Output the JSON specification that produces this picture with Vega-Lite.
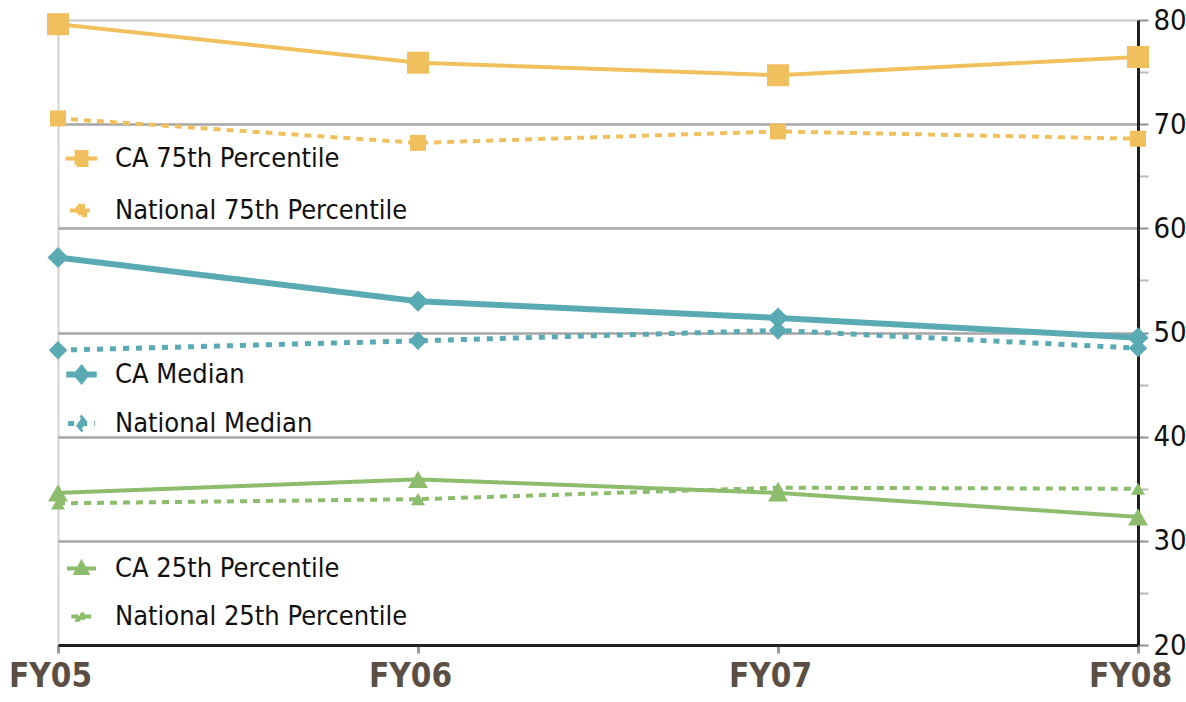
{
  "$schema": "https://vega.github.io/schema/vega-lite/v6.json",
  "width": 1080,
  "height": 625,
  "autosize": {"type": "none"},
  "padding": {"left": 58, "top": 20, "right": 48, "bottom": 57},
  "background": "white",
  "config": {
    "view": {"stroke": null},
    "font": "DejaVu Sans Condensed, Roboto, sans-serif",
    "legend": {
      "title": null,
      "orient": "none",
      "padding": 0,
      "labelFont": "DejaVu Sans Condensed, Roboto, sans-serif",
      "labelFontSize": 27,
      "labelColor": "#111111",
      "labelOffset": 20,
      "labelLimit": 500,
      "symbolSize": 1024,
      "symbolOffset": 0
    }
  },
  "datasets": {
    "main": [
      {"year": 0, "group": "p75", "series": "CA 75th Percentile", "value": 79.6},
      {"year": 1, "group": "p75", "series": "CA 75th Percentile", "value": 75.9},
      {"year": 2, "group": "p75", "series": "CA 75th Percentile", "value": 74.7},
      {"year": 3, "group": "p75", "series": "CA 75th Percentile", "value": 76.45},
      {"year": 0, "group": "p75", "series": "National 75th Percentile", "value": 70.55},
      {"year": 1, "group": "p75", "series": "National 75th Percentile", "value": 68.2},
      {"year": 2, "group": "p75", "series": "National 75th Percentile", "value": 69.3},
      {"year": 3, "group": "p75", "series": "National 75th Percentile", "value": 68.6},
      {"year": 0, "group": "med", "series": "CA Median", "value": 57.2},
      {"year": 1, "group": "med", "series": "CA Median", "value": 53.0},
      {"year": 2, "group": "med", "series": "CA Median", "value": 51.4},
      {"year": 3, "group": "med", "series": "CA Median", "value": 49.5},
      {"year": 0, "group": "med", "series": "National Median", "value": 48.3},
      {"year": 1, "group": "med", "series": "National Median", "value": 49.2},
      {"year": 2, "group": "med", "series": "National Median", "value": 50.2},
      {"year": 3, "group": "med", "series": "National Median", "value": 48.5},
      {"year": 0, "group": "p25", "series": "CA 25th Percentile", "value": 34.6},
      {"year": 1, "group": "p25", "series": "CA 25th Percentile", "value": 35.9},
      {"year": 2, "group": "p25", "series": "CA 25th Percentile", "value": 34.6},
      {"year": 3, "group": "p25", "series": "CA 25th Percentile", "value": 32.3},
      {"year": 0, "group": "p25", "series": "National 25th Percentile", "value": 33.6},
      {"year": 1, "group": "p25", "series": "National 25th Percentile", "value": 34.0},
      {"year": 2, "group": "p25", "series": "National 25th Percentile", "value": 35.1},
      {"year": 3, "group": "p25", "series": "National 25th Percentile", "value": 35.0}
    ]
  },
  "data": {"name": "main"},
  "encoding": {
    "x": {
      "field": "year",
      "type": "quantitative",
      "scale": {"domain": [0, 3], "nice": false, "zero": false},
      "axis": {
        "orient": "bottom",
        "values": [0, 1, 2, 3],
        "labelExpr": "['FY05','FY06','FY07','FY08'][datum.value]",
        "title": null,
        "domainColor": "#231f20",
        "domainWidth": 3,
        "tickColor": "#9a9a9a",
        "tickWidth": 3,
        "tickSize": 8,
        "labelFont": "DejaVu Sans Condensed, Roboto, sans-serif",
        "labelFontSize": 33,
        "labelFontWeight": "bold",
        "labelColor": "#5b4f45",
        "labelPadding": 7,
        "labelOffset": -8,
        "labelFlush": false,
        "labelOverlap": false,
        "grid": true,
        "gridColor": "#d2d2d2",
        "gridWidth": 2,
        "gridOpacity": {"condition": {"test": "datum.value == 0", "value": 1}, "value": 0}
      }
    },
    "y": {
      "field": "value",
      "type": "quantitative",
      "scale": {"domain": [20, 80], "nice": false, "zero": false},
      "axis": {
        "orient": "right",
        "values": [20, 25, 30, 35, 40, 45, 50, 55, 60, 65, 70, 75, 80],
        "labelExpr": "datum.value % 10 == 0 ? datum.label : ''",
        "title": null,
        "domainColor": "#231f20",
        "domainWidth": 3,
        "tickColor": {"condition": {"test": "datum.value % 10 != 0", "value": "#bbbbbb"}, "value": "#8f8f8f"},
        "tickWidth": 2,
        "tickSize": 10,
        "labelFont": "DejaVu Sans Condensed, Roboto, sans-serif",
        "labelFontSize": 29,
        "labelColor": "#111111",
        "labelPadding": 5,
        "labelFlush": false,
        "labelOverlap": false,
        "grid": true,
        "gridColor": {"condition": {"test": "datum.value == 80", "value": "#d0d0d0"}, "value": "#a6a6a6"},
        "gridWidth": 2.5,
        "gridOpacity": {"condition": {"test": "datum.value % 10 != 0 || datum.value == 20", "value": 0}, "value": 1}
      }
    }
  },
  "layer": [
    {
      "transform": [{"filter": "datum.group == 'p75'"}],
      "layer": [
        {
          "mark": {"type": "line", "color": "#f0c05e", "strokeWidth": 4},
          "encoding": {
            "strokeDash": {
              "field": "series",
              "type": "nominal",
              "scale": {"domain": ["CA 75th Percentile", "National 75th Percentile"], "range": [[1, 0], [7, 6]]},
              "legend": {
                "legendX": 10,
                "legendY": 125,
                "rowPadding": 22,
                "symbolSize": 1024,
                "symbolType": "M-1.45,0H1.45M-0.45,-0.6H0.45V0.6H-0.45Z",
                "symbolStrokeColor": "#f0c05e",
                "symbolFillColor": "#f0c05e",
                "symbolStrokeWidth": 4,
                "labelLimit": 500,
                "encode": {"symbols": {"update": {"fill": {"value": "#f0c05e"}, "stroke": {"value": "#f0c05e"}}}}
              }
            }
          }
        },
        {
          "mark": {"type": "point", "shape": "square", "filled": true, "color": "#f0c05e", "opacity": 1},
          "encoding": {
            "size": {
              "field": "series",
              "type": "nominal",
              "scale": {"domain": ["CA 75th Percentile", "National 75th Percentile"], "range": [484, 256]},
              "legend": null
            }
          }
        }
      ]
    },
    {
      "transform": [{"filter": "datum.group == 'med'"}],
      "layer": [
        {
          "mark": {"type": "line", "color": "#5aaab3"},
          "encoding": {
            "strokeDash": {
              "field": "series",
              "type": "nominal",
              "scale": {"domain": ["CA Median", "National Median"], "range": [[1, 0], [6, 7]]},
              "legend": {
                "legendX": 10,
                "legendY": 341,
                "rowPadding": 15,
                "symbolSize": 1024,
                "symbolType": "M-1.45,0H1.45M0,-0.55L0.45,0L0,0.55L-0.45,0Z",
                "symbolStrokeColor": "#5aaab3",
                "symbolFillColor": "#5aaab3",
                "symbolStrokeWidth": 5,
                "labelLimit": 500,
                "encode": {"symbols": {"update": {"fill": {"value": "#5aaab3"}, "stroke": {"value": "#5aaab3"}}}}
              }
            },
            "strokeWidth": {
              "field": "series",
              "type": "nominal",
              "scale": {"domain": ["CA Median", "National Median"], "range": [6, 5]},
              "legend": null
            }
          }
        },
        {
          "mark": {"type": "point", "shape": "diamond", "filled": true, "color": "#5aaab3", "opacity": 1},
          "encoding": {
            "size": {
              "field": "series",
              "type": "nominal",
              "scale": {"domain": ["CA Median", "National Median"], "range": [440, 340]},
              "legend": null
            }
          }
        }
      ]
    },
    {
      "transform": [{"filter": "datum.group == 'p25'"}],
      "layer": [
        {
          "mark": {"type": "line", "color": "#8cbc6c", "strokeWidth": 4},
          "encoding": {
            "strokeDash": {
              "field": "series",
              "type": "nominal",
              "scale": {"domain": ["CA 25th Percentile", "National 25th Percentile"], "range": [[1, 0], [7, 6]]},
              "legend": {
                "legendX": 10,
                "legendY": 535,
                "rowPadding": 20,
                "symbolSize": 1024,
                "symbolType": "M-1.45,0H1.45M0,-0.55L0.55,0.45L-0.55,0.45Z",
                "symbolStrokeColor": "#8cbc6c",
                "symbolFillColor": "#8cbc6c",
                "symbolStrokeWidth": 4,
                "labelLimit": 500,
                "encode": {"symbols": {"update": {"fill": {"value": "#8cbc6c"}, "stroke": {"value": "#8cbc6c"}}}}
              }
            }
          }
        },
        {
          "mark": {"type": "point", "shape": "triangle-up", "filled": true, "color": "#8cbc6c", "opacity": 1},
          "encoding": {
            "size": {
              "field": "series",
              "type": "nominal",
              "scale": {"domain": ["CA 25th Percentile", "National 25th Percentile"], "range": [400, 196]},
              "legend": null
            }
          }
        }
      ]
    }
  ],
  "resolve": {
    "scale": {"strokeDash": "independent", "size": "independent", "strokeWidth": "independent"},
    "legend": {"strokeDash": "independent"}
  }
}
